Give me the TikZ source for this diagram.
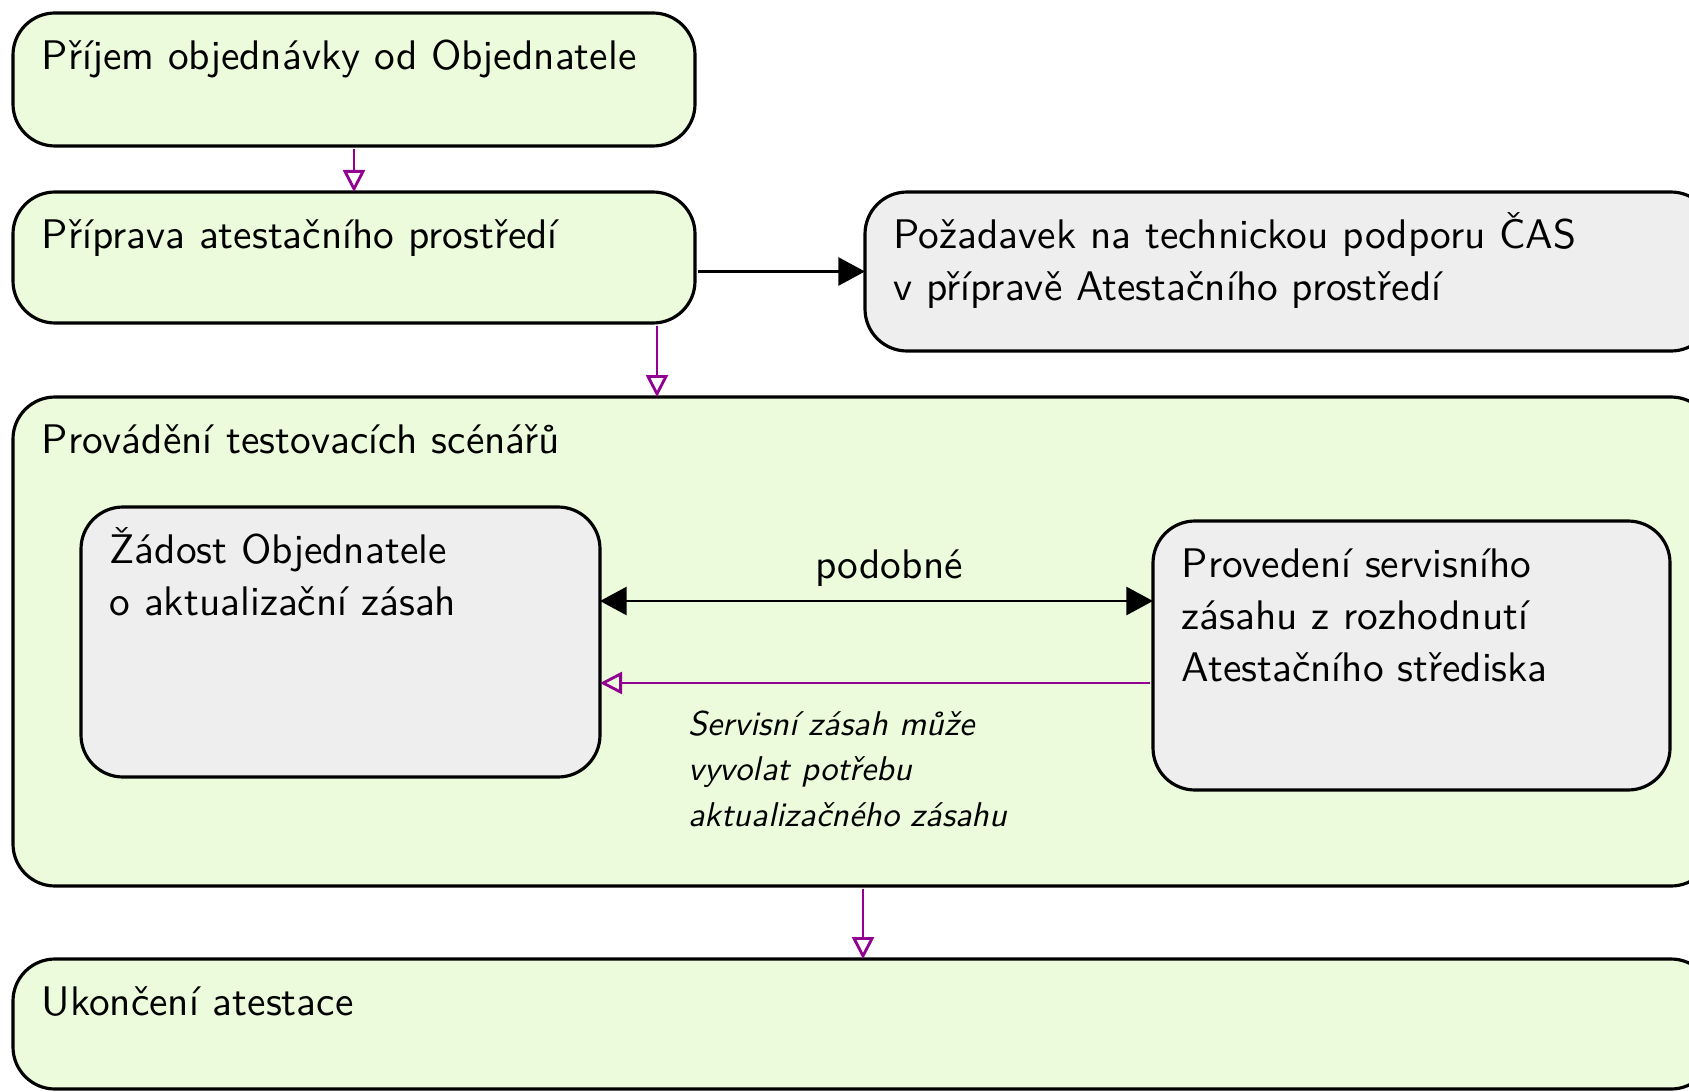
\documentclass[tikz,border=0pt]{standalone}
\usepackage{fontspec}
\setsansfont{lmsans10-regular.otf}[ItalicFont=lmsans10-oblique.otf, BoldFont=lmsans10-bold.otf]
\usetikzlibrary{fit,arrows.meta}
\definecolor{boxgreen}{RGB}{235,251,219}
\definecolor{boxgray}{RGB}{238,238,238}
\definecolor{flowpurple}{RGB}{145,0,145}
\begin{document}
\begin{tikzpicture}[x=0.3pt,y=-0.3pt,
  box/.style={draw=black, line width=0.95pt, rounded corners=12.6pt, inner sep=0pt, outer sep=0pt},
  greenbox/.style={box, fill=boxgreen},
  graybox/.style={box, fill=boxgray},
  txt/.style={anchor=base west, align=left, inner sep=0pt, font=\fontsize{12.4}{15.6}\selectfont\sffamily},
  note/.style={anchor=base west, align=left, inner sep=0pt, font=\fontsize{10.3}{13.7}\selectfont\sffamily\itshape},
  parrow/.style={draw=flowpurple, line width=0.85pt, -{Triangle[open, length=6.6pt, width=6.6pt]}, shorten <=1pt},
  barrow/.style={draw=black, line width=0.85pt, -{Triangle[length=8pt, width=8.4pt]}, shorten <=1pt},
  dbarrow/.style={draw=black, line width=0.85pt, {Triangle[length=8pt, width=8.4pt]}-{Triangle[length=8pt, width=8.4pt]}}
]
\useasboundingbox (0,0) rectangle (1689,1091);
\clip (0,0) rectangle (1689,1091);

% boxes
\node[greenbox, fit={(13,13) (695,146)}] (b1) {};
\node[greenbox, fit={(13,192) (695,323)}] (b2) {};
\node[graybox, fit={(865,192) (1713,351)}] (b3) {};
\node[greenbox, fit={(13,397) (1713,886)}] (b4) {};
\node[graybox, fit={(81,507) (600,777)}] (b4a) {};
\node[graybox, fit={(1153,521) (1670,790)}] (b4b) {};
\node[greenbox, fit={(13,959) (1713,1089)}] (b5) {};

% texts (base anchor of a multi-line node is the last line's baseline)
\node[txt] (t1) at ([xshift=8.4pt,yshift=-17pt]b1.north west) {Příjem objednávky od Objednatele};
\node[txt] (t2) at ([xshift=8.4pt,yshift=-17pt]b2.north west) {Příprava atestačního prostředí};
\node[txt] (t3) at ([xshift=8.4pt,yshift=-32.6pt]b3.north west) {Požadavek na technickou podporu ČAS\\v přípravě Atestačního prostředí};
\node[txt] (t4) at ([xshift=8.4pt,yshift=-17pt]b4.north west) {Provádění testovacích scénářů};
\node[txt] (t4a) at ([xshift=8.4pt,yshift=-32.6pt]b4a.north west) {Žádost Objednatele\\o aktualizační zásah};
\node[txt] (t4b) at ([xshift=8.4pt,yshift=-48.2pt]b4b.north west) {Provedení servisního\\zásahu z rozhodnutí\\Atestačního střediska};
\node[txt] (t5) at ([xshift=8.4pt,yshift=-17pt]b5.north west) {Ukončení atestace};

% connectors
\draw[parrow] (b1.south) -- (b2.north);
\draw[barrow] (b2.east |- b3.west) -- (b3.west);
\draw[parrow] ([xshift=-11.4pt]b2.south east) -- ([xshift=-11.4pt]b2.south east |- b4.north);
\draw[parrow] (b4.south) -- (b5.north);
\draw[dbarrow] ([yshift=-28.2pt]b4a.north east) -- ([yshift=-28.2pt]b4a.north east -| b4b.west)
  node[midway, anchor=base, inner sep=0pt, xshift=3.75pt, yshift=6.9pt, font=\fontsize{12.4}{15.6}\selectfont\sffamily] (lp) {podobné};
\draw[parrow] ([yshift=-52.8pt]b4a.north east -| b4b.west) -- ([yshift=-52.8pt]b4a.north east)
  node[note, pos=0.843, yshift=-43pt] (ls) {Servisní zásah může\\vyvolat potřebu\\aktualizačného zásahu};
\end{tikzpicture}
\end{document}
